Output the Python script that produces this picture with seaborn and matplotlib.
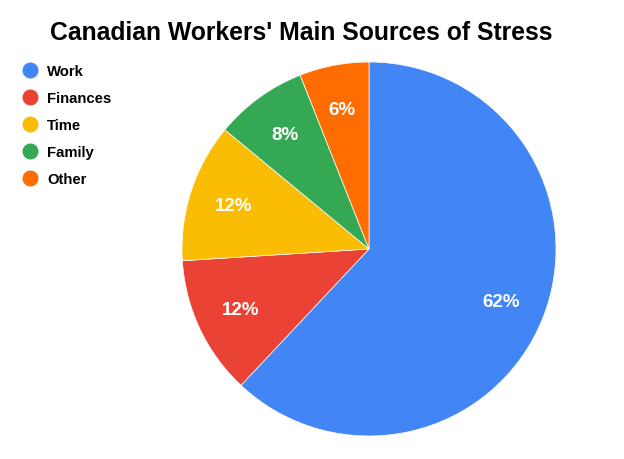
import matplotlib
matplotlib.use("Agg")
import matplotlib.pyplot as plt
from matplotlib.lines import Line2D
import seaborn as sns

# Datos del grafico
categories = ["Work", "Finances", "Time", "Family", "Other"]
shares = [62, 12, 12, 8, 6]
colors = ["#4285F4", "#EA4335", "#FBBC04", "#34A853", "#FF6D01"]
title = "Canadian Workers' Main Sources of Stress"

sns.set_style("white")
plt.rcParams['font.family'] = ['Liberation Sans', 'DejaVu Sans']

fig = plt.figure(figsize=(6.24, 4.6), dpi=100)
ax = fig.add_axes([(369 - 187) / 624, (460 - 437) / 460, 374 / 624, 374 / 460])

palette = sns.color_palette(colors)
wedges, texts, autotexts = ax.pie(
    shares,
    colors=palette,
    startangle=90,
    counterclock=False,
    autopct='%1.0f%%',
    pctdistance=0.76,
    wedgeprops=dict(linewidth=0.5, edgecolor='white'),
    textprops=dict(color='white', fontsize=13.5, fontweight='bold'),
)
ax.set_aspect('equal')
ax.set_xlim(-1, 1)
ax.set_ylim(-1, 1)
ax.axis('off')

fig.suptitle(title, x=0.482, y=0.955, fontsize=17.8, fontweight='bold', color='black')

handles = [Line2D([0], [0], marker='o', linestyle='', markersize=10.5,
                  markerfacecolor=c, markeredgecolor=c) for c in palette]
leg = fig.legend(handles, categories, loc='upper left', bbox_to_anchor=(0.003, 0.888),
                 frameon=False, handletextpad=0.15, labelspacing=0.88,
                 prop=dict(weight='bold', size=10.7))
for t in leg.get_texts():
    t.set_color('black')

fig.savefig("out.png", dpi=100)
